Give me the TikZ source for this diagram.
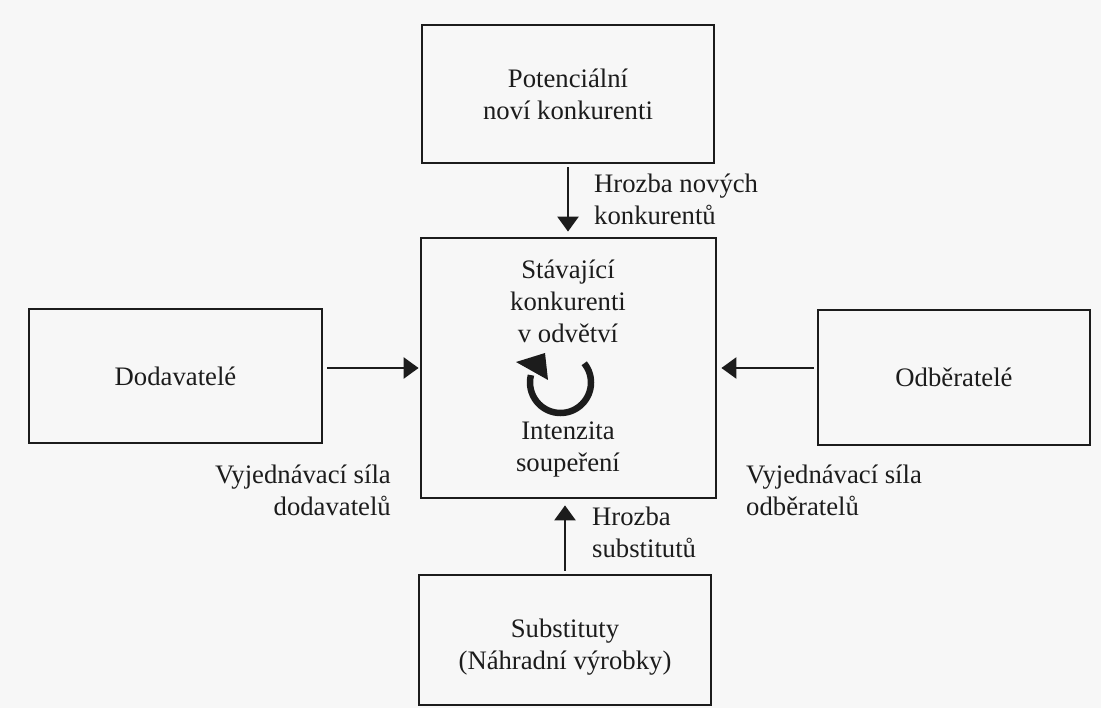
\documentclass[tikz,border=0pt]{standalone}
\usepackage{fontspec}
\setmainfont{Liberation Serif}
\usetikzlibrary{arrows.meta}
\definecolor{ink}{HTML}{1C1C1C}
\definecolor{paper}{HTML}{F7F7F7}
\begin{document}
\begin{tikzpicture}[x=1pt,y=-1pt,
  txt/.style={inner sep=0pt, text=ink, font=\fontsize{26.7}{32}\selectfont},
  box/.style={txt, draw=ink, line width=2.8pt, align=center},
  force/.style={draw=ink, line width=2.6pt, -{Triangle[length=15pt,width=21pt]}},
]
\fill[paper] (0,0) rectangle (1101,708);
\useasboundingbox (0,0) rectangle (1101,708);

% boxes
\node[box, minimum width=292pt, minimum height=138pt] (new) at (568,94) {Potenciální\\noví konkurenti};
\node[box, minimum width=295pt, minimum height=260pt] (comp) at (568.5,368) {};
\node[box, minimum width=293pt, minimum height=134pt] (sup) at (175.5,376) {Dodavatelé};
\node[box, minimum width=272pt, minimum height=135pt] (buy) at (954,377.5) {Odběratelé};
\node[box, minimum width=292pt, minimum height=130pt] (sub) at (565,640) {\rule{0pt}{32pt}Substituty\\(Náhradní výrobky)};

% text inside the central box
\node[txt, align=center] (comptop) at (568,301) {Stávající\\konkurenti\\v odvětví};
\node[txt, align=center] (compbot) at (568,450) {Intenzita\\soupeření};

% circular arrow
\draw[ink, line width=6.5pt] (560.5,382.5) ++(-39:30.5) arc[start angle=-39, end angle=194, radius=30.5];
\fill[ink] (516,362) -- (545,353) -- (548,380) -- cycle;

% connectors
\draw[force, shorten <=3pt, shorten >=5pt] (new.south) -- (new.south |- comp.north);
\draw[force, shorten <=3pt, shorten >=6pt] (sub.north) -- (sub.north |- comp.south);
\draw[force, shorten <=4pt, shorten >=1pt] (sup.east |- comp.center) -- (comp.west);
\draw[force, shorten <=3pt, shorten >=4pt] (buy.west |- comp.center) -- (comp.east);

% labels
\node[txt, align=left, anchor=north west] (lnew) at (594,174) {Hrozba nových\\konkurentů};
\node[txt, align=left, anchor=north west] (lsub) at (592,507) {Hrozba\\substitutů};
\node[txt, align=right, anchor=north east] (lsup) at (391,465) {Vyjednávací síla\\dodavatelů};
\node[txt, align=left, anchor=north west] (lbuy) at (746,465) {Vyjednávací síla\\odběratelů};
\end{tikzpicture}
\end{document}
